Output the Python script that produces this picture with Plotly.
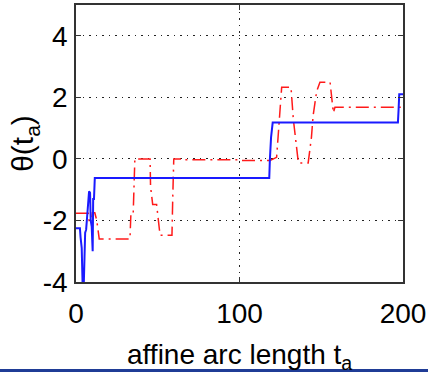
import plotly.graph_objects as go

# blue (solid) series
blue_x = [0, 2.4, 2.8, 3.5, 4.0, 4.8, 5.2, 5.6, 6.2, 6.8, 7.4, 8.0, 8.6, 9.0, 9.6, 9.8, 10.2, 10.5, 11.0, 11.5,
          118.2, 118.6, 119.3, 120.3, 196.9, 197.3, 197.7, 200]
blue_y = [-2.25, -2.25, -2.55, -2.9, -4.0, -4.0, -3.2, -2.4, -2.3, -1.75, -1.6, -1.05, -1.1, -2.0, -2.2, -3.0, -3.0, -1.3, -1.3, -0.62,
          -0.62, 0.0, 0.7, 1.18, 1.18, 1.6, 2.1, 2.1]

# red (dash-dot) series
red_x = [0, 7.5, 8.0, 9.5, 10.0, 11.5, 12.7, 14.2, 33.0, 33.6, 35.0, 36.0, 45.3, 45.6, 46.9, 49.3, 51.4, 58.7, 59.2, 59.8,
         66.0, 66.2, 100.0, 100.2, 118.7, 121.7, 122.7, 125.8, 131.5, 132.9, 136.0, 142.0, 144.0, 145.0, 147.2, 149.2,
         155.4, 157.4, 158.4, 200]
red_y = [-1.77, -1.77, -2.0, -2.0, -1.75, -1.75, -2.0, -2.6, -2.6, -1.75, -1.75, 0.0, 0.0, -0.9, -1.48, -1.48, -2.48, -2.48, -1.2, 0.0,
         0.0, -0.03, -0.03, -0.05, -0.05, 0.02, 0.05, 2.33, 2.33, 1.3, -0.13, -0.13, 0.7, 1.4, 2.2, 2.49,
         2.49, 1.5, 1.68, 1.68]

x_ticks = [0, 100, 200]
x_tick_labels = ["0", "100", "200"]
y_ticks = [-4, -2, 0, 2, 4]
y_tick_labels = ["-4", "-2", "0", "2", "4"]
x_title = "affine arc length t<sub>a</sub>"
y_title = "θ(t<sub>a</sub>)"

FONT = "Liberation Sans, Arial, sans-serif"

fig = go.Figure()
fig.add_trace(go.Scatter(x=red_x, y=red_y, mode="lines",
                         line=dict(color="#ff1a1a", width=1.5, dash="13px,5px,2px,5px"),
                         showlegend=False))
fig.add_trace(go.Scatter(x=blue_x, y=blue_y, mode="lines",
                         line=dict(color="#1a1aff", width=2),
                         showlegend=False))

axis_common = dict(
    showline=True, linecolor="#333333", linewidth=1.5, mirror="ticks",
    ticks="inside", ticklen=5, tickcolor="#333333", tickwidth=1,
    showgrid=True, gridcolor="#222222", gridwidth=1.2, griddash="1.5px,5px",
    zeroline=False,
    tickfont=dict(family=FONT, size=28, color="black"),
)

fig.update_xaxes(range=[0, 200], tickvals=x_ticks, ticktext=x_tick_labels,
                 ticklabelstandoff=6, **axis_common)
fig.update_yaxes(range=[-4, 5], tickvals=y_ticks, ticktext=y_tick_labels,
                 ticklabelstandoff=1,
                 title=dict(text=y_title,
                            font=dict(family=FONT, size=30, color="black"), standoff=0),
                 **axis_common)

fig.add_annotation(text=x_title, xref="paper", yref="paper", x=0.5, y=-0.2,
                   xanchor="center", yanchor="top", showarrow=False,
                   font=dict(family=FONT, size=28, color="black"))

fig.add_shape(type="rect", xref="paper", yref="paper",
              x0=-0.3, x1=1.2, y0=-0.3145, y1=-0.34,
              fillcolor="#1f3c96", line=dict(width=0), layer="above")

fig.update_layout(
    width=428, height=372,
    margin=dict(l=76, r=25, t=5, b=90, autoexpand=False),
    paper_bgcolor="white", plot_bgcolor="white",
)

fig.write_html("out.html")
